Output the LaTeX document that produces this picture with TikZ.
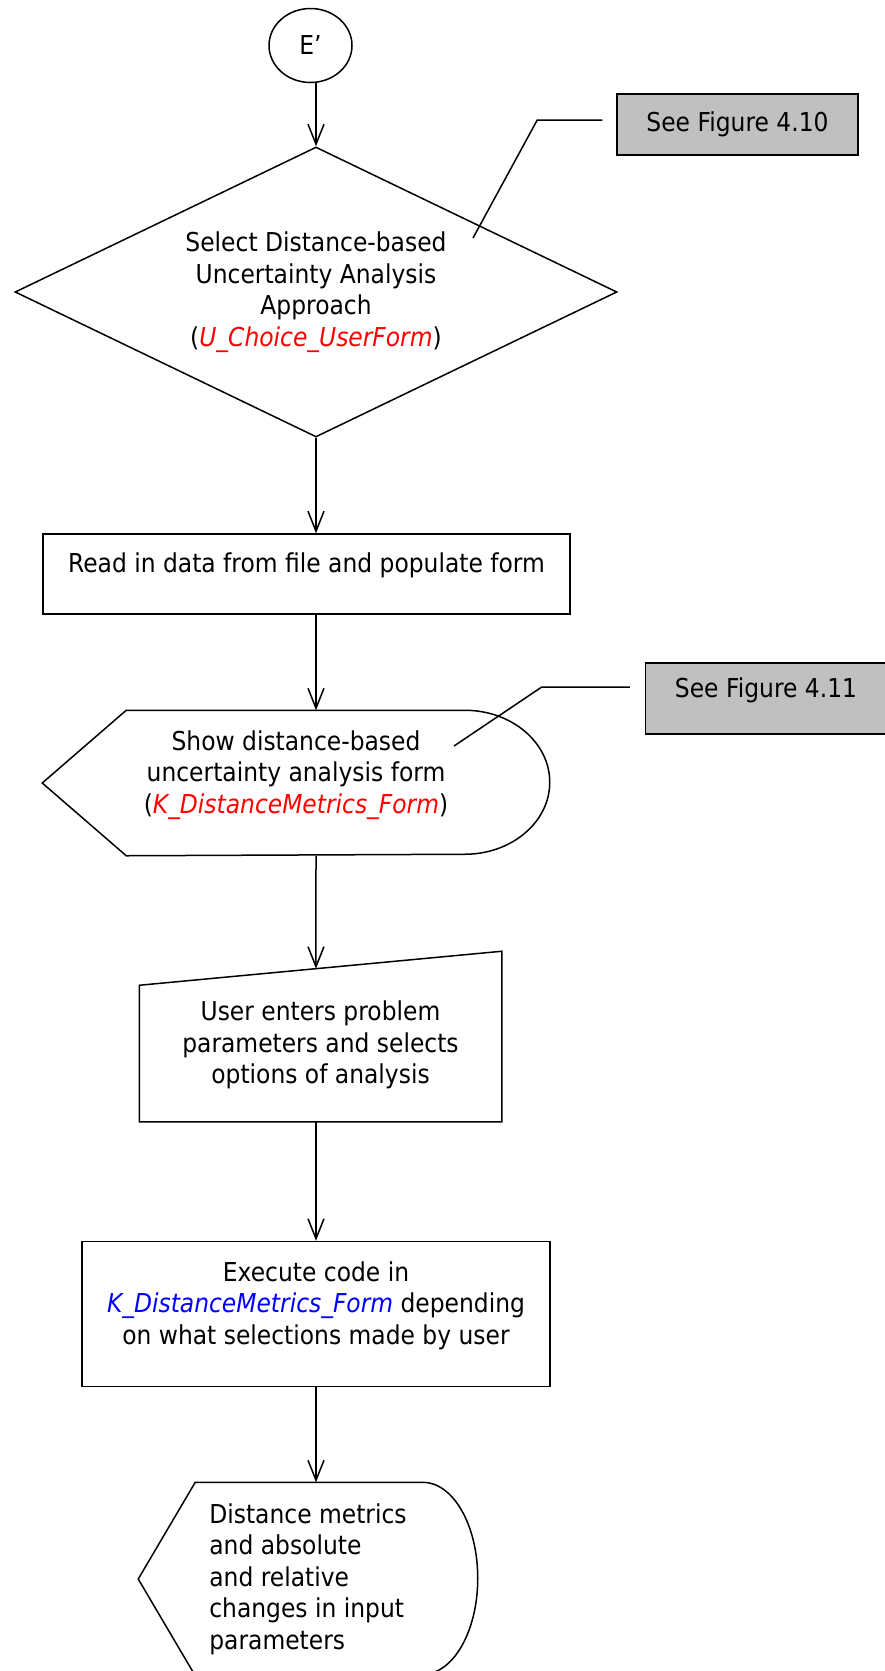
\documentclass[tikz,border=0pt]{standalone}
\usepackage{fontspec}
\setmainfont{DejaVu Sans}[FakeStretch=0.9]
\usetikzlibrary{shapes.geometric,arrows.meta,calc}

\definecolor{formred}{RGB}{255,0,0}
\definecolor{formblue}{RGB}{0,0,255}
\definecolor{notegray}{RGB}{192,192,192}

\begin{document}
\begin{tikzpicture}
  [x=1pt,y=-1pt,line width=1.5pt,font=\fontsize{26}{31.5}\selectfont,
   >={Straight Barb[length=20pt,width=16pt]}]

  \tikzstyle{plain} = [inner sep=0pt,align=center]
  \tikzstyle{box} = [plain,draw,rectangle]
  \tikzstyle{lifted} = [text depth=22pt]
  \tikzstyle{note} = [box,fill=notegray,minimum width=241pt]

  \useasboundingbox (0,0) rectangle (885,1671);

  \node[plain,draw,ellipse,minimum width=83pt,minimum height=74pt]
    (start) at (310.5,45.5) {E’};
  \node[plain,draw,diamond,aspect=2.08,minimum width=602pt,minimum height=290pt]
    (choice) at (316,292) {Select Distance-based\\Uncertainty Analysis\\Approach\\
    (\textcolor{formred}{\itshape U\_Choice\_UserForm})};
  \node[box,lifted,minimum width=527pt,minimum height=80pt]
    (read) at (306.5,574) {Read in data from file and populate form};

  % display shapes: plain node, outline drawn round it
  \node[plain,lifted,minimum width=506pt,minimum height=144pt]
    (show) at (296,783) {Show distance-based\\uncertainty analysis form\\
    (\textcolor{formred}{\itshape K\_DistanceMetrics\_Form})};
  \draw (show.west) -- ($(show.north west)+(84,0)$) -- ($(show.north east)+(-85,0)$)
    arc[start angle=90,end angle=-90,x radius=85pt,y radius=72pt]
    -- ($(show.south west)+(84,0)$) -- cycle;

  % manual input
  \node[plain,lifted,minimum width=361pt,minimum height=135pt]
    (user) at (320.5,1053.5) {User enters problem\\parameters and selects\\options of analysis};
  \coordinate (userne) at ($(user.north east)+(0,-34)$);
  \coordinate (userin) at ($(user.north west)!0.4875!(userne)$);
  \draw (user.north west) -- (userne) -- (user.south east) -- (user.south west) -- cycle;

  \node[box,lifted,minimum width=468pt,minimum height=145pt]
    (exec) at (316,1314) {Execute code in\\
    \textcolor{formblue}{\itshape K\_DistanceMetrics\_Form} depending\\
    on what selections made by user};

  \node[plain,align=left,minimum width=338pt,minimum height=192pt]
    (output) at (308,1579) {Distance metrics\\and absolute\\and relative\\changes in input\\parameters};
  \draw (output.west) -- ($(output.north west)+(57,0)$) -- ($(output.north east)+(-55,0)$)
    arc[start angle=90,end angle=-90,x radius=55pt,y radius=96pt]
    -- ($(output.south west)+(57,0)$) -- cycle;

  % notes
  \node[note,minimum height=61pt] (fig410) at (737.5,124.5) {See Figure 4.10};
  \node[note,lifted,minimum height=71pt] (fig411) at (766,698.5) {See Figure 4.11};
  \coordinate (pin410) at (473,238);
  \coordinate (pin411) at (454,746);
  \draw ($(fig410.west)+(-14,-4.5)$) -- ++(-65,0) -- (pin410);
  \draw ($(fig411.west)+(-15,-11.5)$) -- ++(-88,0) -- (pin411);

  \path[->]
        (start.south -| choice) edge (choice)
        (choice) edge (read.north -| choice)
        (read.south -| choice) edge (show.north -| choice)
        (show.south -| choice) edge (userin)
        (user.south -| choice) edge (exec)
        (exec) edge (output.north -| exec);
\end{tikzpicture}
\end{document}
